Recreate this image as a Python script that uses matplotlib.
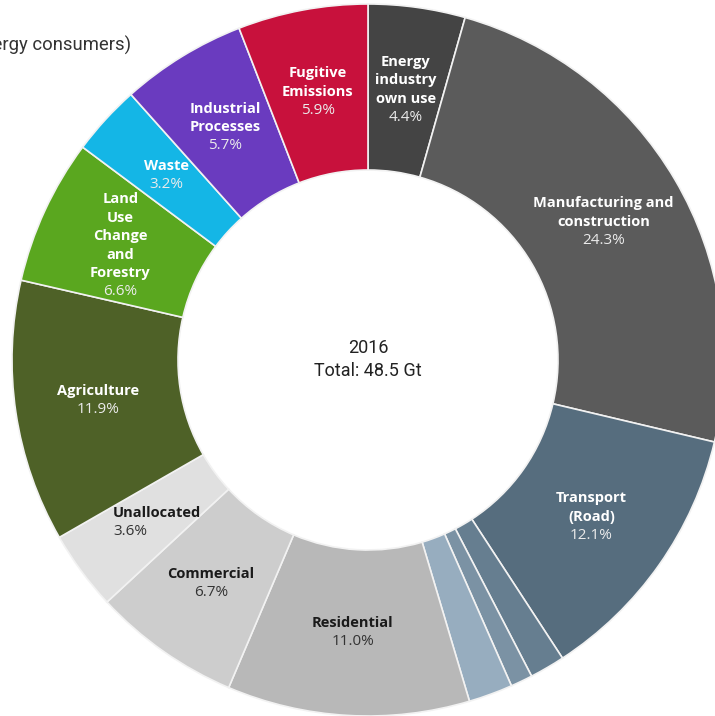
import matplotlib.pyplot as plt
import numpy as np

plt.rcParams['font.family'] = ['Roboto', 'DejaVu Sans']

# Sectors, clockwise from the top
sectors = ["Energy\nindustry\nown use", "Manufacturing and\nconstruction", "Transport\n(Road)",
           "Transport (Aviation)", "Transport (Shipping)", "Transport (Other)",
           "Residential", "Commercial", "Unallocated", "Agriculture",
           "Land\nUse\nChange\nand\nForestry", "Waste", "Industrial\nProcesses",
           "Fugitive\nEmissions"]
shares = [4.4, 24.3, 12.1, 1.6, 1.0, 2.0, 11.0, 6.7, 3.6, 11.9, 6.6, 3.2, 5.7, 5.9]
show_label = [True, True, True, False, False, False, True, True, True, True, True, True, True, True]

colors = ["#444444", "#5b5b5b", "#566d7e", "#667e90", "#7b92a4", "#97adbf",
          "#b8b8b8", "#cdcdcd", "#e0e0e0", "#4e6127", "#5aa71f", "#14b6e6",
          "#6a3bbf", "#c8113c"]
dark_text = ["Residential", "Commercial", "Unallocated"]

W, H = 715, 716
fig = plt.figure(figsize=(W / 100, H / 100), dpi=100)
ax = fig.add_axes([0, 0, 1, 1])

cx, cy = 368, H - 360
R, r_in = 356, 190

wedges, _ = ax.pie(shares, colors=colors, startangle=90, counterclock=False,
                   center=(cx, cy), radius=R,
                   wedgeprops=dict(width=R - r_in, edgecolor="#f2f2f2", linewidth=1.2))

ax.set_xlim(0, W)
ax.set_ylim(0, H)
ax.set_aspect("equal")
ax.axis("off")

# Labels inside the ring
r_mid = (R + r_in) / 2
line_h = 18.5
for w, name, val, show in zip(wedges, sectors, shares, show_label):
    if not show:
        continue
    ang = np.deg2rad((w.theta1 + w.theta2) / 2)
    x = cx + r_mid * np.cos(ang)
    y = cy + r_mid * np.sin(ang)
    lines = name.split("\n")
    n = len(lines) + 1
    top = y + n * line_h / 2
    dark = name in dark_text
    name_col = "#1a1a1a" if dark else "white"
    pct_col = "#333333" if dark else "#ebebeb"
    ha = "center"
    if name == "Unallocated":
        ha = "left"
        x -= 35
    for i, ln in enumerate(lines):
        ax.text(x, top - i * line_h - line_h / 2, ln, ha=ha, va="center",
                fontsize=10.5, fontweight="bold", color=name_col, family="Open Sans")
    ax.text(x, top - len(lines) * line_h - line_h / 2, f"{val:.1f}%", ha=ha, va="center",
            fontsize=11, color=pct_col, family="Open Sans")

# Centre text
ax.text(cx, cy + 12, "2016", ha="center", va="center", fontsize=13, color="#222222")
ax.text(cx, cy - 11, "Total: 48.5 Gt", ha="center", va="center", fontsize=13, color="#222222")

# Title, cut off by the left edge as in the original
ax.text(131, H - 45, "Global emissions by sector (energy consumers)", ha="right", va="center",
        fontsize=13.3, color="#333333")

fig.savefig("out.png", dpi=100)
